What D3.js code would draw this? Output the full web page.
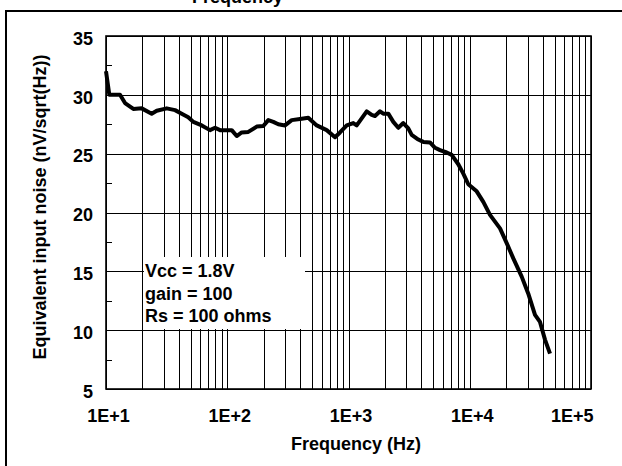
<!DOCTYPE html>
<html>
<head>
<meta charset="utf-8">
<script src="https://cdn.jsdelivr.net/npm/d3@7"></script>
<style>
  html, body { margin: 0; padding: 0; background: #fff; }
  svg { display: block; }
  text { font-family: "Liberation Sans", Arial, Helvetica, sans-serif; font-weight: bold; fill: #000; }
</style>
</head>
<body>
<svg id="chart" width="622" height="466"></svg>
<script>
// ---- data ----
const freqHz = [10, 10.65, 13.05, 14.35, 16.8, 19.7, 23.8, 26.2, 31.7, 37.1, 42.1, 47.7, 52.5, 61.6, 72.1, 79.3, 87.2,
  108.8, 119.7, 131.6, 149.1, 175, 198.3, 218, 239.8, 263.6, 299.5, 340, 398, 466, 547, 661, 774, 851, 967,
  1095, 1168, 1285, 1413, 1554, 1654, 1819, 1936, 2129, 2342, 2575, 2831, 3113, 3321, 3764, 4140, 4700, 5170,
  5684, 6454, 7097, 8045, 8847, 9727, 11410, 12935, 14690, 17770, 20170, 22870, 26820, 30400, 34530, 37960,
  41740, 45910];
const noise = [32.0, 30.0, 30.0, 29.3, 28.8, 28.85, 28.4, 28.65, 28.85, 28.7, 28.4, 28.1, 27.7, 27.4, 27.0, 27.2, 27.0,
  27.0, 26.5, 26.8, 26.85, 27.3, 27.35, 27.85, 27.7, 27.5, 27.4, 27.85, 27.95, 28.05, 27.4, 27.0, 26.4, 26.8, 27.4,
  27.6, 27.4, 28.0, 28.6, 28.3, 28.2, 28.6, 28.4, 28.4, 27.7, 27.2, 27.6, 27.15, 26.6, 26.2, 26.0, 25.95, 25.5,
  25.3, 25.1, 24.9, 24.1, 23.3, 22.4, 21.8, 20.9, 19.8, 18.65, 17.4, 16.1, 14.55, 13.1, 11.3, 10.7,
  9.2, 8.0];
const xTickValues = [10, 100, 1000, 10000, 100000];
const xTickLabels = ["1E+1", "1E+2", "1E+3", "1E+4", "1E+5"];
const yTickValues = [5, 10, 15, 20, 25, 30, 35];
const yTickLabels = ["5", "10", "15", "20", "25", "30", "35"];
const yMinorTicks = [7.5, 12.5, 17.5, 22.5, 27.5, 32.5];
const legendLines = ["Vcc = 1.8V", "gain = 100", "Rs = 100 ohms"];
const titleText = "Frequency";
const xTitle = "Frequency (Hz)";
const yTitle = "Equivalent input noise (nV/sqrt(Hz))";

// ---- layout ----
const L = 106, R = 591, T = 36, B = 389;
const svg = d3.select("#chart");
const x = d3.scaleLog().domain([10, 1e5]).range([L, R]);
const y = d3.scaleLinear().domain([5, 35]).range([B, T]);

// outer frame (extends past the picture on right/bottom)
svg.append("rect").attr("x", 6).attr("y", 11).attr("width", 700).attr("height", 520)
  .attr("fill", "none").attr("stroke", "#000").attr("stroke-width", 2);

// cut-off title at the very top
svg.append("text").attr("x", 283).attr("y", 3).attr("text-anchor", "end")
  .attr("font-size", 18).text(titleText);

// vertical grid (log minor lines)
const vGrid = [];
for (let dec = 10; dec < 1e5; dec *= 10) for (let m = 1; m <= 9; m++) vGrid.push(dec * m);
vGrid.push(1e5);
svg.append("g").attr("class", "vgrid")
  .call(d3.axisBottom(x).tickValues(vGrid).tickSize(-(B - T)).tickFormat(""))
  .attr("transform", `translate(0,${B})`)
  .call(g => g.select(".domain").remove())
  .call(g => g.selectAll("line").attr("stroke", "#000").attr("stroke-width", 1).attr("shape-rendering", "crispEdges"));

// horizontal grid
svg.append("g").attr("class", "hgrid")
  .attr("transform", `translate(${L},0)`)
  .call(d3.axisLeft(y).tickValues(yTickValues).tickSize(-(R - L)).tickFormat(""))
  .call(g => g.select(".domain").remove())
  .call(g => g.selectAll("line").attr("stroke", "#000").attr("stroke-width", 1).attr("shape-rendering", "crispEdges"));

// minor y ticks (inside)
svg.append("g").attr("transform", `translate(${L},0)`)
  .call(d3.axisLeft(y).tickValues(yMinorTicks).tickSize(-6).tickFormat(""))
  .call(g => g.select(".domain").remove())
  .call(g => g.selectAll("line").attr("stroke", "#000").attr("stroke-width", 1).attr("shape-rendering", "crispEdges"));

// legend box (white, borderless) covering grid
svg.append("rect").attr("x", 144).attr("y", 257).attr("width", 161).attr("height", 72).attr("fill", "#fff");

// plot frame
svg.append("rect").attr("x", L).attr("y", T).attr("width", R - L).attr("height", B - T)
  .attr("fill", "none").attr("stroke", "#000").attr("stroke-width", 1.6);

// y axis labels
svg.append("g").attr("transform", `translate(${L},0)`)
  .call(d3.axisLeft(y).tickValues(yTickValues).tickSize(0).tickPadding(13)
    .tickFormat((d, i) => yTickLabels[i]))
  .call(g => g.select(".domain").remove())
  .call(g => g.selectAll("text").attr("font-size", 18).attr("dy", "0.46em")
    .style("font-family", "'Liberation Sans', Arial, sans-serif").style("font-weight", "bold"));

// x axis labels
svg.append("g").attr("transform", `translate(0,${B})`)
  .call(d3.axisBottom(x).tickValues(xTickValues).tickSize(0).tickPadding(20)
    .tickFormat((d, i) => xTickLabels[i]))
  .call(g => g.select(".domain").remove())
  .call(g => g.selectAll("text").attr("font-size", 18).attr("dx", 2)
    .style("font-family", "'Liberation Sans', Arial, sans-serif").style("font-weight", "bold"))
  .call(g => g.selectAll(".tick").filter(d => d === 1e5).select("text")
    .attr("text-anchor", "end").attr("dx", 2));

// curve
const line = d3.line().x(d => x(d[0])).y(d => y(d[1]));
svg.append("path").datum(freqHz.map((f, i) => [f, noise[i]]))
  .attr("d", line).attr("fill", "none").attr("stroke", "#000")
  .attr("stroke-width", 4).attr("stroke-linejoin", "round").attr("stroke-linecap", "butt");

// legend text
svg.append("g").selectAll("text").data(legendLines).join("text")
  .attr("x", 145).attr("y", (d, i) => 277 + i * 22.5).attr("font-size", 18).text(d => d);

// axis titles
svg.append("text").attr("x", 356).attr("y", 450).attr("text-anchor", "middle")
  .attr("font-size", 18).text(xTitle);
svg.append("text").attr("transform", "translate(46,207) rotate(-90)").attr("text-anchor", "middle")
  .attr("font-size", 18).text(yTitle);
</script>
</body>
</html>
